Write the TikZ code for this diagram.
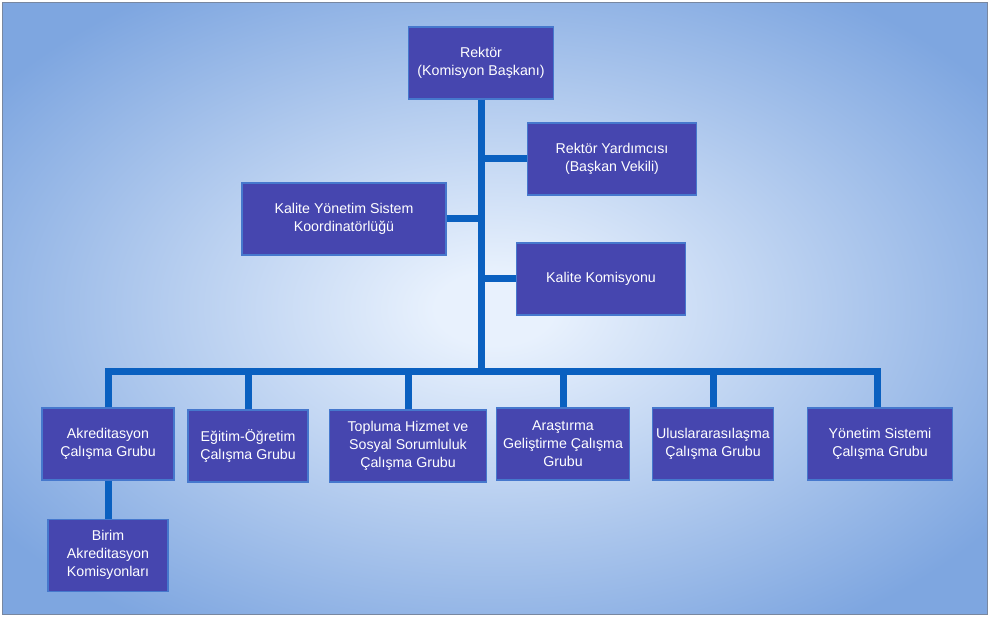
\documentclass[tikz,border=0pt]{standalone}
\usepackage{fontspec}
\setmainfont{Liberation Sans}
\usetikzlibrary{positioning}
\definecolor{bgin}{RGB}{232,241,253}
\definecolor{bgout}{RGB}{126,166,224}
\definecolor{boxfill}{RGB}{70,70,175}
\definecolor{boxedge}{RGB}{70,120,205}
\definecolor{busblue}{RGB}{10,96,192}
\definecolor{frame}{RGB}{120,135,160}
\pgfdeclareradialshading{bgglow}{\pgfpoint{0bp}{0bp}}{color(0bp)=(bgin); color(3bp)=(bgin); color(31bp)=(bgout); color(50bp)=(bgout)}
\tikzset{
    %Define style for boxes
    unit/.style={
           rectangle,
           draw=boxedge, line width=1.2pt,
           fill=boxfill,
           text=white,
           minimum height=72pt,
           inner sep=2pt,
           align=center,
           font=\fontsize{14.2}{18}\selectfont},
    % Define connector style
    bus/.style={
           draw=busblue,
           line width=7pt,
           line join=miter}
}
\begin{document}
\begin{tikzpicture}[x=1pt,y=-1pt]
\useasboundingbox (0,0) rectangle (990,617);
\path[shading=bgglow, draw=frame, line width=1pt] (2,3) rectangle (987,614);
\node[unit, minimum width=145pt] (1) at (481,63) {Rektör\\(Komisyon Başkanı)};
\node[unit, minimum width=169pt] (2) at (612,159) {Rektör Yardımcısı\\(Başkan Vekili)};
\node[unit, minimum width=204pt] (3) at (344,219) {Kalite Yönetim Sistem\\Koordinatörlüğü};
\node[unit, minimum width=169pt] (4) at (601,279) {Kalite Komisyonu};
\node[unit, minimum width=132pt] (5) at (108,444) {Akreditasyon\\Çalışma Grubu};
\node[unit, minimum width=120pt] (6) at (248,446) {Eğitim-Öğretim\\Çalışma Grubu};
\node[unit, minimum width=157pt] (7) at (408,446) {Topluma Hizmet ve\\Sosyal Sorumluluk\\Çalışma Grubu};
\node[unit, minimum width=133pt] (8) at (563,444) {Araştırma\\Geliştirme Çalışma\\Grubu};
\node[unit, minimum width=121pt] (9) at (713,444) {Uluslararasılaşma\\Çalışma Grubu};
\node[unit, minimum width=145pt] (10) at (880,444) {Yönetim Sistemi\\Çalışma Grubu};
\node[unit, minimum width=120pt, below=38pt of 5] (11) {Birim\\Akreditasyon\\Komisyonları};
\coordinate (hub) at (481,371);
\coordinate (end) at (877,371);
% trunk and side branches
\path[bus]
	(1.south) -- (hub)
	(2.west) -- (2.west -| hub)
	(3.east) -- (3.east -| hub)
	(4.west) -- (4.west -| hub);
% bottom bar
\path[bus]
	(5.north) |- (end) -- (end |- 10.north)
	(6.north) -- (6.north |- hub)
	(7.north) -- (7.north |- hub)
	(8.north) -- (8.north |- hub)
	(9.north) -- (9.north |- hub)
	(5.south) -- (11.north);
\end{tikzpicture}
\end{document}
